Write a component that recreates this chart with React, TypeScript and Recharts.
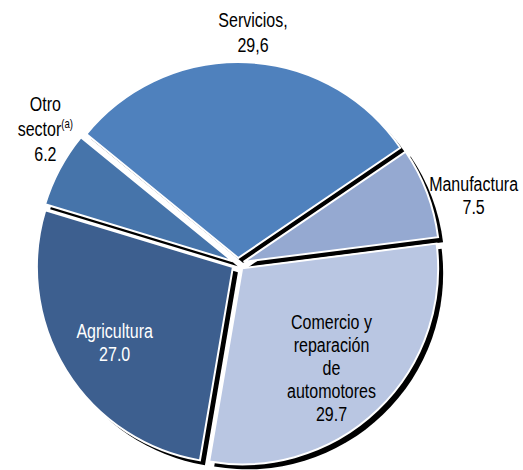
import React from "react";
import { PieChart, Pie, Cell, Sector } from "recharts";

// share of each sector (%)
const SECTORS = ["Servicios", "Manufactura", "Comercio y reparación de automotores", "Agricultura", "Otro sector"];
const VALUES = [29.6, 7.5, 29.7, 27.0, 6.2];
const VALUE_LABELS = ["29,6", "7.5", "29.7", "27.0", "6.2"];
const LABEL_LINES = [
  ["Servicios,"],
  ["Manufactura"],
  ["Comercio y", "reparación", "de", "automotores"],
  ["Agricultura"],
  ["Otro", "sector"],
];
const COLORS = ["#4f81bd", "#95a9d1", "#b9c6e2", "#3d5f8f", "#4674aa"];
const TEXT_COLORS = ["#000", "#000", "#000", "#fff", "#000"];
// label placement: radius from center, plus small nudge
const LABEL_R = [232, 253, 138, 145, 216];
const LABEL_NUDGE = [[5, 0], [-1, 21], [-2, 4], [0, 2], [-2, -33]];

const data = SECTORS.map((name, i) => ({ name, value: VALUES[i] }));

const RAD = Math.PI / 180;
const EXPLODE = 6;
const SHADOW = 5;
const FONT = "'Liberation Sans', Arial, sans-serif";
const NARROW = 0.8; // reference text is a condensed face

function offsetOf(midAngle: number, extra = 0) {
  return {
    dx: EXPLODE * Math.cos(-midAngle * RAD) + extra,
    dy: EXPLODE * Math.sin(-midAngle * RAD) + extra,
  };
}

const ShadowShape = (props: any) => {
  const { dx, dy } = offsetOf(props.midAngle, SHADOW);
  return <Sector {...props} cx={props.cx + dx} cy={props.cy + dy} fill="#000" stroke="none" />;
};

const SliceShape = (props: any) => {
  const { dx, dy } = offsetOf(props.midAngle);
  return <Sector {...props} cx={props.cx + dx} cy={props.cy + dy} stroke="#fff" strokeWidth={2} />;
};

const renderLabel = (props: any) => {
  const { cx, cy, midAngle, index } = props;
  const r = LABEL_R[index];
  const x = cx + r * Math.cos(-midAngle * RAD) + LABEL_NUDGE[index][0];
  const yc = cy + r * Math.sin(-midAngle * RAD) + LABEL_NUDGE[index][1];
  const lines = [...LABEL_LINES[index], VALUE_LABELS[index]];
  const lh = index === 0 || index === 4 ? 25 : 23;
  const y0 = yc - ((lines.length - 1) * lh) / 2;
  return (
    <g>
      {lines.map((t, k) => (
        <text
          key={k}
          transform={`translate(${x},${y0 + k * lh + 7}) scale(${NARROW},1)`}
          x={0}
          y={0}
          textAnchor="middle"
          fill={TEXT_COLORS[index]}
          fontSize={20}
          fontFamily={FONT}
        >
          {t}
          {index === 4 && k === 1 ? (
            <tspan fontSize={12} dy={-8}>(a)</tspan>
          ) : null}
        </text>
      ))}
    </g>
  );
};

export default function App() {
  const start = 140.8;
  return (
    <div style={{ position: "absolute", left: 0, top: 0, width: 523, height: 470, background: "#fff" }}>
      <PieChart width={523} height={470} margin={{ top: 0, right: 0, bottom: 0, left: 0 }}>
        <Pie
          data={data}
          dataKey="value"
          nameKey="name"
          cx={238}
          cy={264}
          outerRadius={196}
          startAngle={start}
          endAngle={start - 360}
          isAnimationActive={false}
          shape={ShadowShape}
          stroke="none"
        >
          {data.map((d, i) => (
            <Cell key={i} fill="#000" />
          ))}
        </Pie>
        <Pie
          data={data}
          dataKey="value"
          nameKey="name"
          cx={238}
          cy={264}
          outerRadius={196}
          startAngle={start}
          endAngle={start - 360}
          isAnimationActive={false}
          shape={SliceShape}
          label={renderLabel}
          labelLine={false}
        >
          {data.map((d, i) => (
            <Cell key={i} fill={COLORS[i]} />
          ))}
        </Pie>
      </PieChart>
    </div>
  );
}
